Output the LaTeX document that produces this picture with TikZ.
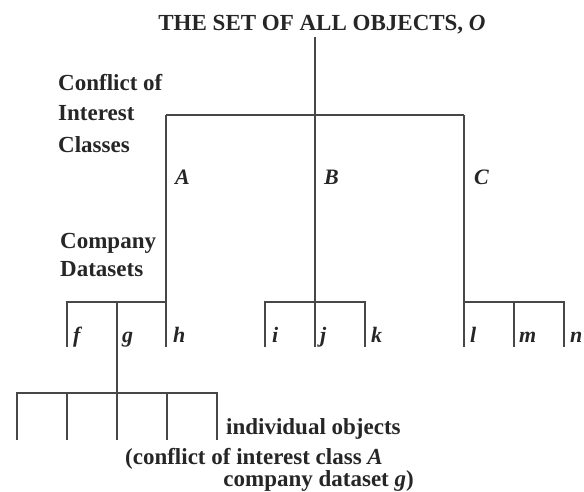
\documentclass[tikz,border=0pt]{standalone}
\usepackage{fontspec}
\setmainfont{Liberation Serif}
\begin{document}
\begin{tikzpicture}[x=1pt,y=-1pt,
  txt/.style={inner sep=0pt,font=\fontsize{23}{26}\selectfont\bfseries},
  lbl/.style={txt,anchor=base west,font=\fontsize{22}{26}\selectfont\bfseries\itshape},
  ln/.style={line width=1.7pt,draw=black!72},
  every node/.style={text=black!85}]
\useasboundingbox (0,0) rectangle (584,492);
% texts
\node[txt,anchor=base] (title) at (322,31) {THE SET OF ALL OBJECTS, \textit{O}};
\node[txt,anchor=base west] (coi1) at (58,91) {Conflict of};
\node[txt,anchor=base west] (coi2) at (58,121) {Interest};
\node[txt,anchor=base west] (coi3) at (58,153) {Classes};
\node[txt,anchor=base west] (cd1) at (60,248) {Company};
\node[txt,anchor=base west] (cd2) at (60,276) {Datasets};
\node[lbl] (A) at (175,185) {A};
\node[lbl] (B) at (324,185) {B};
\node[lbl] (C) at (474,185) {C};
\node[lbl] (f) at (73,342) {f};
\node[lbl] (g) at (122,342) {g};
\node[lbl] (h) at (173,342) {h};
\node[lbl] (i) at (272,342) {i};
\node[lbl] (j) at (320,342) {j};
\node[lbl] (k) at (371,342) {k};
\node[lbl] (l) at (470,342) {l};
\node[lbl] (m) at (519,342) {m};
\node[lbl] (n) at (570,342) {n};
\node[txt,anchor=base west] (ind) at (226,434) {individual objects};
\node[txt,anchor=base east] (par1) at (383,464) {(conflict of interest class \textit{A}};
\node[txt,anchor=base east] (par2) at (414,486) {company dataset \textit{g})};
% tree points
\coordinate (root) at (315,37);
\coordinate (tA) at (166,115);
\coordinate (tB) at (315,115);
\coordinate (tC) at (464,115);
\coordinate (dA) at (166,302);
\coordinate (dB) at (315,302);
\coordinate (dC) at (464,302);
\coordinate (fT) at (67,302);  \coordinate (fB) at (67,347);
\coordinate (gT) at (117,302); \coordinate (gB) at (117,347);
\coordinate (hB) at (166,347);
\coordinate (iT) at (265,302); \coordinate (iB) at (265,347);
\coordinate (jB) at (315,347);
\coordinate (kT) at (365,302); \coordinate (kB) at (365,347);
\coordinate (lB) at (464,347);
\coordinate (mT) at (514,302); \coordinate (mB) at (514,347);
\coordinate (nT) at (564,302); \coordinate (nB) at (564,347);
\coordinate (oG) at (117,393);
\coordinate (o1T) at (17,393);  \coordinate (o1B) at (17,440);
\coordinate (o2T) at (67,393);  \coordinate (o2B) at (67,440);
\coordinate (o3B) at (117,440);
\coordinate (o4T) at (167,393); \coordinate (o4B) at (167,440);
\coordinate (o5T) at (217,393); \coordinate (o5B) at (217,440);
% lines
\draw[ln] (root) -- (jB);
\draw[ln] (tA) -- (tC);
\draw[ln] (tA) -- (hB);
\draw[ln] (tC) -- (lB);
\draw[ln] (fB) -- (fT) -- (dA);
\draw[ln] (gT) -- (o3B);
\draw[ln] (iB) -- (iT) -- (kT) -- (kB);
\draw[ln] (dC) -- (nT) -- (nB);
\draw[ln] (mT) -- (mB);
\draw[ln] (o1B) -- (o1T) -- (o5T) -- (o5B);
\draw[ln] (o2T) -- (o2B);
\draw[ln] (o4T) -- (o4B);
\end{tikzpicture}
\end{document}
